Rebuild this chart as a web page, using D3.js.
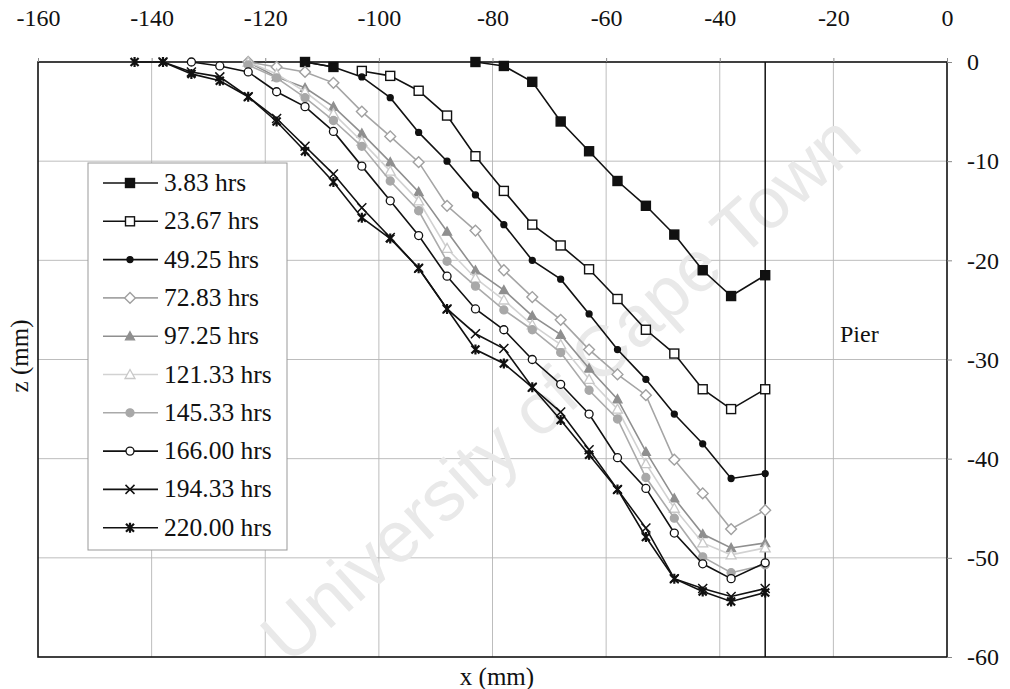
<!DOCTYPE html>
<html>
<head>
<meta charset="utf-8">
<script src="https://cdn.jsdelivr.net/npm/d3@7"></script>
<style>
  body { margin: 0; background: #fff; }
  svg { font-family: "Liberation Serif", "Times New Roman", serif; }
</style>
</head>
<body>
<div id="chart"></div>
<script>
var width = 1010, height = 689;

// measurement stations (mm from the pier face side)
var xStations = [-143, -138, -133, -128, -123, -118, -113, -108, -103, -98, -93, -88,
                 -83, -78, -73, -68, -63, -58, -53, -48, -43, -38, -32];

var labels = ['3.83 hrs', '23.67 hrs', '49.25 hrs', '72.83 hrs', '97.25 hrs',
              '121.33 hrs', '145.33 hrs', '166.00 hrs', '194.33 hrs', '220.00 hrs'];

var z383  = [null, null, null, null, null, null, 0, -0.5, null, null, null, null,
             0, -0.4, -2.0, -6.0, -9.0, -12.0, -14.5, -17.4, -21.0, -23.6, -21.5];
var z2367 = [null, null, null, null, null, null, null, null, -0.9, -1.4, -2.9, -5.4,
             -9.5, -13.0, -16.4, -18.5, -20.9, -23.9, -27.0, -29.4, -33.0, -35.0, -33.0];
var z4925 = [null, null, null, null, null, null, 0, -0.5, -1.5, -3.6, -7.1, -10.0,
             -13.4, -16.4, -20.0, -21.9, -25.4, -29.0, -32.0, -35.5, -38.5, -42.0, -41.5];
var z7283 = [null, null, null, null, 0, -0.5, -1.0, -2.1, -5.0, -7.5, -10.1, -14.5,
             -17.0, -21.0, -23.7, -26.0, -29.0, -31.5, -33.6, -40.1, -43.5, -47.1, -45.2];
var z9725 = [null, null, null, null, 0, -1.5, -2.6, -4.5, -7.2, -10.1, -13.1, -17.1,
             -21.0, -23.0, -25.6, -27.5, -30.9, -34.0, -39.3, -44.0, -47.6, -49.0, -48.5];
var z12133 = [null, null, null, null, 0, -1.2, -3.0, -5.2, -8.0, -11.0, -14.0, -18.8,
              -21.8, -24.0, -26.5, -28.5, -32.0, -35.0, -40.5, -45.0, -48.5, -49.7, -49.0];
var z14533 = [null, null, null, null, -0.3, -1.6, -3.6, -5.9, -8.5, -12.0, -15.0, -20.1,
              -22.6, -25.0, -27.0, -29.3, -33.1, -36.0, -41.9, -46.0, -49.9, -51.5, -50.7];
var z16600 = [null, null, 0, -0.4, -1.0, -3.0, -4.5, -7.0, -10.5, -14.0, -17.5, -21.6,
              -24.9, -27.0, -30.0, -32.5, -35.5, -39.9, -43.0, -47.5, -50.6, -52.1, -50.5];
var z19433 = [null, 0, -1.0, -1.5, -3.5, -5.7, -8.5, -11.3, -14.7, -17.7, -20.8, -24.9,
              -27.4, -28.9, -32.8, -35.3, -39.1, -43.1, -47.0, -52.1, -53.1, -53.9, -53.1];
var z22000 = [0, 0, -1.2, -1.9, -3.5, -6.0, -9.0, -12.1, -15.7, -17.8, -20.8, -24.9,
              -29.0, -30.4, -32.8, -36.1, -39.6, -43.1, -47.9, -52.1, -53.4, -54.4, -53.5];

var xTicks = [-160, -140, -120, -100, -80, -60, -40, -20, 0];
var zTicks = [0, -10, -20, -30, -40, -50, -60];
var pierX = -32;

var values = [z383, z2367, z4925, z7283, z9725, z12133, z14533, z16600, z19433, z22000];

// look of each series: line colour, marker kind, marker stroke/fill
var styles = [
  {line: '#111', mark: 'square',   stroke: '#111', fill: '#111', r: 9},
  {line: '#111', mark: 'square',   stroke: '#111', fill: '#fff', r: 9},
  {line: '#111', mark: 'circle',   stroke: '#111', fill: '#111', r: 6},
  {line: '#a5a5a5', mark: 'diamond',  stroke: '#a0a0a0', fill: '#fff', r: 8},
  {line: '#8f8f8f', mark: 'triangle', stroke: '#8f8f8f', fill: '#8f8f8f', r: 9},
  {line: '#d2d2d2', mark: 'triangle', stroke: '#c8c8c8', fill: '#fff', r: 10},
  {line: '#aaa', mark: 'circle',   stroke: '#a8a8a8', fill: '#a8a8a8', r: 8},
  {line: '#111', mark: 'circle',   stroke: '#111', fill: '#fff', r: 8},
  {line: '#111', mark: 'x',        stroke: '#111', fill: 'none', r: 9},
  {line: '#111', mark: 'star',     stroke: '#111', fill: 'none', r: 10}
];

var series = labels.map(function(l, i) {
  return {label: l, style: styles[i],
    points: xStations.map(function(x, j) { return {x: x, z: values[i][j]}; })};
});

var x = d3.scaleLinear().domain([-160, 0]).range([38, 947]);
var y = d3.scaleLinear().domain([0, -60]).range([62, 657]);

var svg = d3.select('#chart').append('svg')
  .attr('width', width).attr('height', height);

// grid
svg.append('g').selectAll('line')
  .data(xTicks.filter(function(d) { return d > -160 && d < 0; })).enter()
  .append('line')
    .attr('x1', function(d) { return x(d); }).attr('x2', function(d) { return x(d); })
    .attr('y1', y(0)).attr('y2', y(-60))
    .attr('stroke', '#b5b5b5').attr('stroke-width', 0.9);
svg.append('g').selectAll('line')
  .data(zTicks.filter(function(d) { return d < 0 && d > -60; })).enter()
  .append('line')
    .attr('x1', x(-160)).attr('x2', x(0))
    .attr('y1', function(d) { return y(d); }).attr('y2', function(d) { return y(d); })
    .attr('stroke', '#b5b5b5').attr('stroke-width', 0.9);

// watermark
svg.append('text')
  .attr('transform', 'translate(560,388) rotate(-42)')
  .attr('text-anchor', 'middle')
  .attr('dy', '0.35em')
  .style('font-family', '"Liberation Sans", Arial, sans-serif')
  .style('font-size', '72px')
  .attr('fill', '#e9e9e9')
  .text('University of Cape Town');

// frame
svg.append('rect')
  .attr('x', x(-160)).attr('y', y(0))
  .attr('width', x(0) - x(-160)).attr('height', y(-60) - y(0))
  .attr('fill', 'none').attr('stroke', '#111').attr('stroke-width', 1.6);

// pier face
svg.append('line')
  .attr('x1', x(pierX)).attr('x2', x(pierX))
  .attr('y1', y(0)).attr('y2', y(-60))
  .attr('stroke', '#111').attr('stroke-width', 1.5);

// axes
var fmt = function(d) { return String(d); };
var axisTop = svg.append('g').attr('transform', 'translate(0,' + y(0) + ')')
  .call(d3.axisTop(x).tickValues(xTicks).tickSize(4).tickSizeOuter(0).tickPadding(32)
    .tickFormat(fmt));
axisTop.select('.domain').remove();
axisTop.selectAll('line').attr('stroke', '#888');
axisTop.selectAll('text').style('font-size', '24px').attr('fill', '#111')
  .style('font-family', '"Liberation Serif", "Times New Roman", serif');

var axisRight = svg.append('g').attr('transform', 'translate(' + x(0) + ',0)')
  .call(d3.axisRight(y).tickValues(zTicks).tickSize(5).tickSizeOuter(0).tickPadding(15)
    .tickFormat(fmt));
axisRight.select('.domain').remove();
axisRight.selectAll('line').attr('stroke', '#888');
axisRight.selectAll('text').style('font-size', '24px').attr('fill', '#111')
  .style('font-family', '"Liberation Serif", "Times New Roman", serif');

svg.append('text').attr('x', 497).attr('y', 685).attr('text-anchor', 'middle')
  .style('font-size', '25px').attr('fill', '#111').text('x (mm)');
svg.append('text').attr('transform', 'translate(28,356) rotate(-90)').attr('text-anchor', 'middle')
  .style('font-size', '25px').attr('fill', '#111').text('z (mm)');
svg.append('text').attr('x', 840).attr('y', 342)
  .style('font-size', '24px').attr('fill', '#111').text('Pier');

// markers
function drawMarker(g, st) {
  var r = st.r / 2;
  if (st.mark === 'square') {
    g.append('rect').attr('x', -r).attr('y', -r).attr('width', 2 * r).attr('height', 2 * r)
      .attr('fill', st.fill).attr('stroke', st.stroke).attr('stroke-width', 1.4);
  } else if (st.mark === 'diamond') {
    g.append('path').attr('d', 'M0,' + (-r * 1.35) + 'L' + (r * 1.35) + ',0L0,' + (r * 1.35) + 'L' + (-r * 1.35) + ',0Z')
      .attr('fill', st.fill).attr('stroke', st.stroke).attr('stroke-width', 1.4);
  } else if (st.mark === 'circle') {
    g.append('circle').attr('r', r)
      .attr('fill', st.fill).attr('stroke', st.stroke).attr('stroke-width', 1.3);
  } else if (st.mark === 'triangle') {
    g.append('path').attr('d', 'M0,' + (-r) + 'L' + r + ',' + (r * 0.8) + 'L' + (-r) + ',' + (r * 0.8) + 'Z')
      .attr('fill', st.fill).attr('stroke', st.stroke).attr('stroke-width', 1.3);
  } else if (st.mark === 'x') {
    g.append('path').attr('d', 'M' + (-r) + ',' + (-r) + 'L' + r + ',' + r + 'M' + (-r) + ',' + r + 'L' + r + ',' + (-r))
      .attr('stroke', st.stroke).attr('stroke-width', 1.5).attr('fill', 'none');
  } else if (st.mark === 'star') {
    g.append('path').attr('d', 'M' + (-r * 0.8) + ',' + (-r * 0.8) + 'L' + (r * 0.8) + ',' + (r * 0.8) +
        'M' + (-r * 0.8) + ',' + (r * 0.8) + 'L' + (r * 0.8) + ',' + (-r * 0.8) + 'M0,' + (-r) + 'L0,' + r)
      .attr('stroke', st.stroke).attr('stroke-width', 2.2).attr('fill', 'none');
  }
}

var line = d3.line()
  .defined(function(d) { return d.z !== null; })
  .x(function(d) { return x(d.x); })
  .y(function(d) { return y(d.z); });

series.forEach(function(s) {
  var g = svg.append('g');
  g.append('path').datum(s.points)
    .attr('d', line)
    .attr('fill', 'none')
    .attr('stroke', s.style.line)
    .attr('stroke-width', 1.6);
  g.selectAll('g.mk')
    .data(s.points.filter(function(d) { return d.z !== null; })).enter()
    .append('g').attr('class', 'mk')
    .attr('transform', function(d) { return 'translate(' + x(d.x) + ',' + y(d.z) + ')'; })
    .each(function() { drawMarker(d3.select(this), s.style); });
});

// legend
var legend = svg.append('g');
legend.append('rect').attr('x', 88).attr('y', 163).attr('width', 199).attr('height', 387)
  .attr('fill', '#fff').attr('stroke', '#999').attr('stroke-width', 1);
var item = legend.selectAll('g.item').data(series).enter()
  .append('g').attr('class', 'item')
  .attr('transform', function(d, i) { return 'translate(0,' + (183 + i * 38.3) + ')'; });
item.append('line').attr('x1', 103).attr('x2', 158).attr('y1', 0).attr('y2', 0)
  .attr('stroke', function(d) { return d.style.line; }).attr('stroke-width', 1.6);
item.append('g').attr('transform', 'translate(130,0)')
  .each(function(d) { drawMarker(d3.select(this), d.style); });
item.append('text').attr('x', 164).attr('y', 8)
  .style('font-size', '25.5px').attr('fill', '#111')
  .text(function(d) { return d.label; });
</script>
</body>
</html>
